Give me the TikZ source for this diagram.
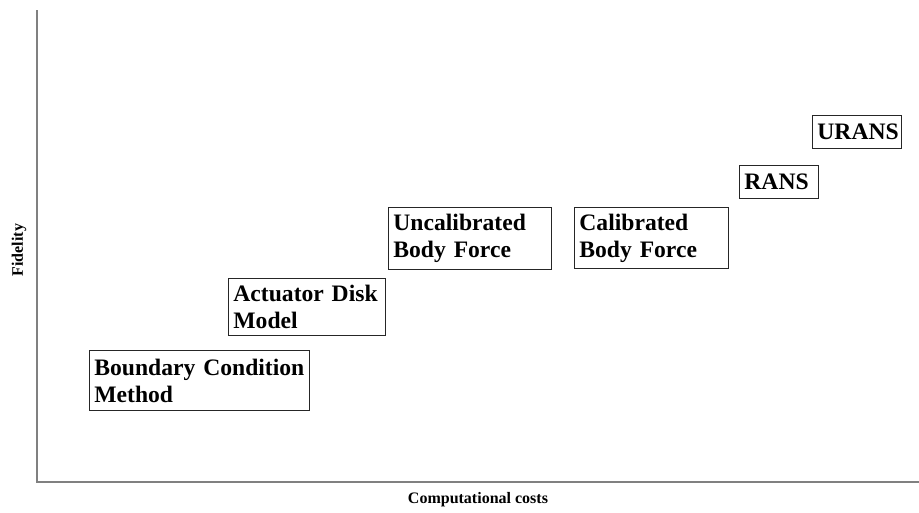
\documentclass[tikz,border=0pt]{standalone}
\usepackage{fontspec}
\setmainfont{Liberation Serif}
\hyphenpenalty=10000
\exhyphenpenalty=10000
\begin{document}
\begin{tikzpicture}[x=1pt,y=-1pt,
  axisline/.style={draw=black!50, line width=1.4pt},
  method/.style={draw=black!85, line width=0.9pt, anchor=north west,
    inner xsep=5pt, inner ysep=0pt, align=left,
    font=\fontsize{23.6}{27}\selectfont\bfseries},
  axislabel/.style={font=\fontsize{16}{19}\selectfont\bfseries}]
\useasboundingbox (0,0) rectangle (919,512);
% axes
\coordinate (origin) at (37,482);
\coordinate (ytop) at (37,10);
\coordinate (xend) at (919,482);
\draw[axisline] (ytop) -- (origin) -- (xend);
\node[axislabel, rotate=90] (ylab) at (19,250) {Fidelity};
\node[axislabel] (xlab) at (478,500) {Computational costs};
% modelling approaches, ordered by cost and fidelity
\node[method, text width=210pt, minimum height=60pt] (bcm) at (89,350) {Boundary Condition\\Method};
\node[method, text width=147pt, minimum height=57pt] (adm) at (228,278) {Actuator Disk\\Model};
\node[method, text width=153pt, minimum height=62pt] (ubf) at (388,207) {Uncalibrated\\Body Force};
\node[method, text width=144pt, minimum height=61pt] (cbf) at (574,207) {Calibrated\\Body Force};
\node[method, text width=69pt, minimum height=33pt] (rans) at (739,165) {RANS};
\node[method, text width=79pt, minimum height=33pt] (urans) at (812,115) {URANS};
\end{tikzpicture}
\end{document}
